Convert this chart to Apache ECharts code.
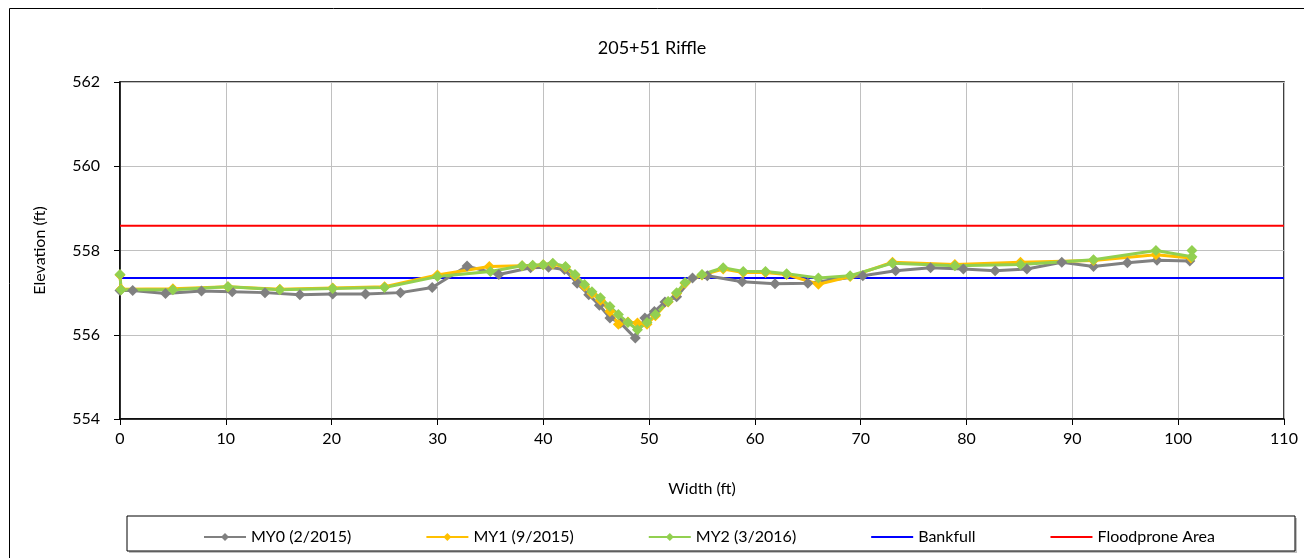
<!DOCTYPE html>
<html>
<head>
<meta charset="utf-8">
<script src="https://cdn.jsdelivr.net/npm/echarts@6/dist/echarts.min.js"></script>
<style>
  html, body { margin: 0; padding: 0; background: #fff; }
  #chart { width: 1304px; height: 558px; }
</style>
</head>
<body>
<div id="chart"></div>
<script>
// station (ft) / elevation (ft)
var my0X = [0, 1.2, 4.3, 7.7, 10.6, 13.7, 17.0, 20.1, 23.2, 26.5, 29.5, 32.8, 35.8, 38.8, 40.5, 42.0, 43.2, 44.3, 45.3, 46.3, 47.3, 48.7, 49.6, 50.5, 51.5, 52.6, 54.1, 55.5, 58.8, 61.9, 65.0, 70.2, 73.3, 76.6, 79.7, 82.7, 85.7, 89.0, 92.0, 95.2, 98.0, 101.1];
var my0Y = [557.05, 557.05, 556.98, 557.04, 557.02, 557.0, 556.95, 556.97, 556.97, 557.0, 557.12, 557.63, 557.43, 557.59, 557.6, 557.55, 557.22, 556.95, 556.7, 556.4, 556.28, 555.92, 556.4, 556.55, 556.78, 556.9, 557.35, 557.4, 557.26, 557.21, 557.22, 557.4, 557.52, 557.59, 557.56, 557.52, 557.56, 557.72, 557.62, 557.71, 557.77, 557.75];

var my1X = [0, 0.1, 5.0, 10.2, 15.1, 20.1, 25.0, 30.0, 34.9, 38.0, 39.0, 40.0, 40.9, 42.1, 43.0, 43.9, 44.6, 45.4, 46.3, 47.1, 48.0, 48.9, 49.8, 50.6, 51.8, 52.6, 53.4, 55.0, 57.0, 58.9, 61.0, 63.0, 66.0, 69.0, 73.0, 78.9, 85.1, 92.0, 97.9, 101.2];
var my1Y = [557.42, 557.08, 557.09, 557.14, 557.08, 557.11, 557.14, 557.42, 557.62, 557.64, 557.64, 557.66, 557.68, 557.6, 557.4, 557.15, 556.98, 556.82, 556.55, 556.25, 556.3, 556.28, 556.25, 556.45, 556.78, 556.98, 557.22, 557.42, 557.56, 557.48, 557.48, 557.43, 557.2, 557.38, 557.72, 557.67, 557.72, 557.76, 557.9, 557.82];

var my2X = [0, 0.1, 5.0, 10.2, 15.1, 20.1, 25.0, 30.0, 35.0, 38.0, 39.0, 40.0, 40.9, 42.1, 43.0, 43.9, 44.6, 45.4, 46.3, 47.1, 48.0, 48.9, 49.8, 50.6, 51.8, 52.6, 53.4, 55.0, 57.0, 58.9, 61.0, 63.0, 66.0, 69.0, 73.0, 78.9, 85.1, 92.0, 97.9, 101.3, 101.3];
var my2Y = [557.43, 557.07, 557.07, 557.14, 557.07, 557.1, 557.12, 557.38, 557.5, 557.64, 557.65, 557.66, 557.7, 557.62, 557.43, 557.19, 557.02, 556.88, 556.67, 556.48, 556.29, 556.12, 556.29, 556.48, 556.79, 557.0, 557.24, 557.43, 557.59, 557.5, 557.5, 557.45, 557.35, 557.4, 557.7, 557.64, 557.67, 557.78, 558.0, 557.85, 558.0];

var bankfullX = [0, 110];
var bankfullY = [557.35, 557.35];
var floodX = [0, 110];
var floodY = [558.59, 558.59];

var xTicks = [0, 110, 10];   // min, max, interval
var yTicks = [554, 562, 2];

var seriesNames = ['MY0 (2/2015)', 'MY1 (9/2015)', 'MY2 (3/2016)', 'Bankfull', 'Floodprone Area'];

function pairs(xs, ys) {
  return xs.map(function (x, i) { return [x, ys[i]]; });
}

var FONT = 'Lato';
var chart = echarts.init(document.getElementById('chart'));

function survey(name, xs, ys, color) {
  return {
    name: name,
    type: 'line',
    data: pairs(xs, ys),
    symbol: 'diamond',
    symbolSize: 11,
    lineStyle: { color: color, width: 3 },
    itemStyle: { color: color },
    animation: false
  };
}

function flat(name, xs, ys, color) {
  return {
    name: name,
    type: 'line',
    data: pairs(xs, ys),
    symbol: 'none',
    lineStyle: { color: color, width: 2 },
    itemStyle: { color: color },
    animation: false
  };
}

var option = {
  backgroundColor: '#fff',
  animation: false,
  title: {
    text: '205+51 Riffle',
    left: 'center',
    top: 34,
    textStyle: { fontFamily: FONT, fontSize: 18, fontWeight: 'normal', color: '#000' }
  },
  grid: {
    left: 120, right: 20, top: 82, bottom: 139,
    show: true, borderColor: '#000', borderWidth: 1.5
  },
  graphic: [
    { type: 'rect', shape: { x: 9.5, y: 8.5, width: 1320, height: 570 },
      style: { fill: 'none', stroke: '#000', lineWidth: 1 }, z: -1 },
    { type: 'rect', shape: { x: 129, y: 518, width: 1168, height: 35 },
      style: { fill: '#bfbfbf', stroke: 'none' }, z: -1 },
    { type: 'rect', shape: { x: 127, y: 516, width: 1168, height: 35 },
      style: { fill: '#fff', stroke: '#000', lineWidth: 1 }, z: 0 }
  ],
  legend: {
    data: [
      { name: seriesNames[0] },
      { name: seriesNames[1] },
      { name: seriesNames[2] },
      { name: seriesNames[3], itemStyle: { opacity: 0 } },
      { name: seriesNames[4], itemStyle: { opacity: 0 } }
    ],
    left: 198,
    top: 524,
    itemGap: 74,
    itemWidth: 42,
    itemHeight: 10,
    textStyle: { fontFamily: FONT, fontSize: 16, color: '#000' },
    z: 5
  },
  xAxis: {
    type: 'value',
    min: xTicks[0], max: xTicks[1], interval: xTicks[2],
    name: 'Width (ft)',
    nameLocation: 'middle',
    nameGap: 62,
    nameTextStyle: { fontFamily: FONT, fontSize: 16, color: '#000' },
    axisLine: { show: true, onZero: false, lineStyle: { color: '#000', width: 1.5 } },
    axisTick: { show: true, inside: false, length: 6, lineStyle: { color: '#000' } },
    axisLabel: { fontFamily: FONT, fontSize: 16, color: '#000', margin: 12 },
    splitLine: { show: true, lineStyle: { color: '#c0c0c0', width: 1 } }
  },
  yAxis: {
    type: 'value',
    min: yTicks[0], max: yTicks[1], interval: yTicks[2],
    name: 'Elevation (ft)',
    nameLocation: 'middle',
    nameGap: 72,
    nameTextStyle: { fontFamily: FONT, fontSize: 16, color: '#000' },
    axisLine: { show: true, lineStyle: { color: '#000', width: 1.5 } },
    axisTick: { show: true, inside: false, length: 6, lineStyle: { color: '#000' } },
    axisLabel: { fontFamily: FONT, fontSize: 16, color: '#000', margin: 20 },
    splitLine: { show: true, lineStyle: { color: '#c0c0c0', width: 1 } }
  },
  series: [
    flat(seriesNames[3], bankfullX, bankfullY, '#0000ff'),
    flat(seriesNames[4], floodX, floodY, '#ff0000'),
    survey(seriesNames[0], my0X, my0Y, '#808080'),
    survey(seriesNames[1], my1X, my1Y, '#ffc000'),
    survey(seriesNames[2], my2X, my2Y, '#92d050')
  ]
};
option && chart.setOption(option);
</script>
</body>
</html>
